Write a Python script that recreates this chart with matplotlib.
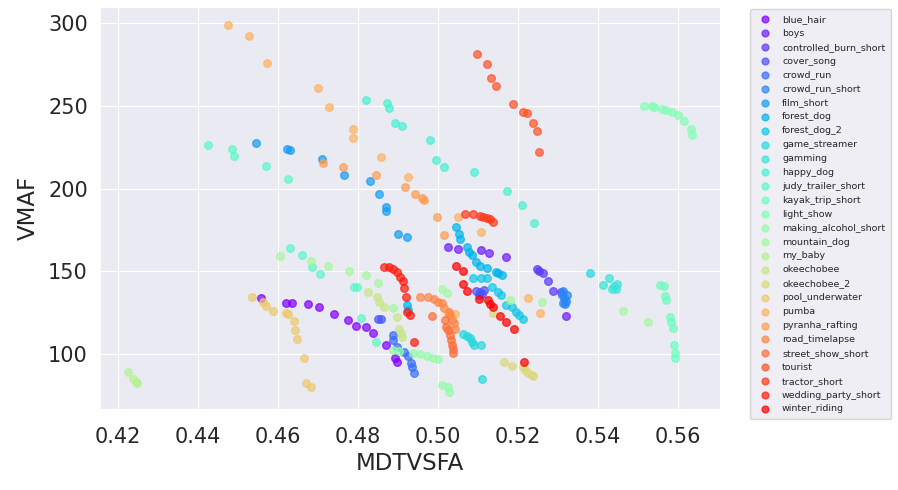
import numpy as np
import matplotlib
matplotlib.use("Agg")
import matplotlib.pyplot as plt
import seaborn as sns

# (MDTVSFA, VMAF) points per video
blue_hair = [(0.4558, 133.8), (0.4620, 130.8), (0.4635, 130.8), (0.4675, 130.2), (0.4703, 128.4),
             (0.4740, 124.2), (0.4775, 120.5), (0.4795, 117.0), (0.4820, 116.3), (0.4838, 112.7),
             (0.4870, 105.4), (0.4893, 97.6), (0.4898, 95.2)]
boys = [(0.5025, 165.0), (0.5050, 163.4), (0.5108, 162.8), (0.5128, 161.0), (0.5170, 158.6), (0.5320, 123.0)]
controlled_burn_short = [(0.5248, 151.6), (0.5253, 150.0), (0.5263, 149.0), (0.5275, 144.0),
                         (0.5288, 138.0), (0.5308, 137.5)]
cover_song = [(0.4850, 121.0), (0.4858, 121.0), (0.5095, 138.0), (0.5105, 137.5), (0.5110, 136.5),
              (0.5115, 138.5), (0.5102, 136.0)]
crowd_run = [(0.4888, 111.5), (0.4888, 108.5), (0.4898, 104.3), (0.4915, 101.2), (0.4925, 98.8),
             (0.4933, 94.6), (0.4935, 92.2), (0.4940, 88.5)]
crowd_run_short = [(0.5310, 136.0), (0.5315, 134.0), (0.5320, 132.0), (0.5312, 138.0), (0.5318, 130.5),
                   (0.5322, 135.5), (0.5313, 131.0)]
film_short = [(0.4545, 227.5), (0.4623, 224.0), (0.4630, 223.0), (0.4710, 218.0), (0.4765, 208.0),
              (0.4830, 204.5), (0.4853, 197.0), (0.4870, 189.0), (0.4870, 186.6), (0.4900, 172.5),
              (0.4923, 170.7)]
forest_dog = [(0.4923, 129.6), (0.4925, 126.6), (0.5045, 176.7), (0.5053, 172.5), (0.5055, 169.5),
              (0.5073, 164.7), (0.5078, 161.6), (0.5085, 159.8), (0.5095, 155.5), (0.5105, 153.2),
              (0.5123, 152.0), (0.5145, 149.5), (0.5150, 149.0), (0.5160, 147.8)]
forest_dog_2 = [(0.5088, 146.0), (0.5108, 146.0), (0.5123, 146.0), (0.5135, 140.5), (0.5150, 137.5),
                (0.5158, 135.6), (0.5170, 129.6), (0.5185, 128.4), (0.5195, 125.4), (0.5203, 123.6),
                (0.5213, 121.0)]
game_streamer = [(0.5063, 112.0), (0.5073, 110.9), (0.5080, 109.7), (0.5085, 107.3), (0.5090, 105.4),
                 (0.5108, 105.4), (0.5110, 85.0), (0.5380, 149.0)]
gamming = [(0.5413, 141.7), (0.5428, 146.0), (0.5435, 139.5), (0.5445, 139.5), (0.5448, 142.6),
           (0.5440, 141.0)]
happy_dog = [(0.4820, 253.5), (0.4873, 251.7), (0.4878, 248.6), (0.4893, 239.6), (0.4910, 237.8),
             (0.4980, 229.3), (0.4995, 217.0), (0.5015, 213.0), (0.5090, 210.0), (0.5173, 198.5),
             (0.5210, 190.0), (0.5240, 179.0)]
judy_trailer_short = [(0.4425, 226.0), (0.4485, 224.0), (0.4490, 219.6), (0.4570, 213.6), (0.4625, 205.8),
                      (0.4630, 164.0), (0.4660, 160.0), (0.4685, 152.6), (0.4705, 148.3), (0.4790, 140.5),
                      (0.4797, 140.3), (0.4808, 121.8), (0.4845, 107.3)]
kayak_trip_short = [(0.5555, 142.0), (0.5565, 141.0), (0.5568, 135.0), (0.5570, 133.0), (0.5580, 122.4),
                    (0.5583, 119.3), (0.5588, 116.0), (0.5590, 105.4), (0.5593, 100.6), (0.5593, 97.6)]
light_show = [(0.5515, 250.0), (0.5535, 250.0), (0.5540, 249.5), (0.5560, 248.0), (0.5570, 247.4),
              (0.5585, 246.0), (0.5600, 244.4), (0.5615, 241.0), (0.5633, 236.0), (0.5635, 232.3)]
making_alcohol_short = [(0.4888, 102.4), (0.4903, 101.8), (0.4938, 100.6), (0.4955, 100.0), (0.4973, 98.8),
                        (0.4988, 97.6), (0.5000, 97.0), (0.5010, 81.3), (0.5025, 80.0), (0.5028, 77.0)]
mountain_dog = [(0.4605, 159.0), (0.4683, 156.0), (0.4725, 153.0), (0.4778, 150.0), (0.4820, 148.0),
                (0.4850, 143.0), (0.4888, 127.8), (0.5010, 139.3), (0.5023, 137.0), (0.5180, 132.6),
                (0.5260, 131.4), (0.5463, 126.0), (0.5525, 119.3)]
my_baby = [(0.4225, 89.0), (0.4238, 85.0), (0.4245, 83.0), (0.4248, 82.5)]
okeechobee = [(0.4825, 137.5), (0.4848, 134.5), (0.4853, 131.5), (0.4865, 128.4), (0.4898, 122.3),
              (0.4903, 115.0), (0.4908, 112.7), (0.4910, 110.3)]
okeechobee_2 = [(0.5165, 95.2), (0.5185, 92.8), (0.5213, 92.2), (0.5218, 90.4), (0.5225, 88.5),
                (0.5235, 87.3), (0.5238, 86.7), (0.5138, 124.8)]
pool_underwater = [(0.4535, 134.4), (0.4563, 131.4), (0.4570, 129.0), (0.4588, 126.0), (0.4620, 124.8),
                   (0.4625, 124.3), (0.4640, 120.0), (0.4643, 114.5), (0.4648, 109.0), (0.4665, 97.6),
                   (0.4670, 82.5), (0.4683, 80.0)]
pumba = [(0.4475, 299.0), (0.4528, 292.0), (0.4573, 276.0), (0.4700, 261.0), (0.4728, 249.0),
         (0.4788, 236.0), (0.4788, 230.5), (0.4858, 219.0), (0.4925, 207.0), (0.5050, 182.6),
         (0.5108, 173.7), (0.5225, 133.8), (0.5255, 124.7), (0.5025, 124.8), (0.5043, 124.2)]
pyranha_rafting = [(0.4713, 215.4), (0.4763, 213.0), (0.4845, 208.0), (0.4918, 201.0), (0.4943, 196.7),
                   (0.4960, 194.0), (0.4965, 193.0), (0.4998, 183.0), (0.5015, 172.0)]
road_timelapse = [(0.4955, 134.4), (0.4975, 134.4), (0.4990, 133.2), (0.5000, 131.4), (0.5010, 130.8),
                  (0.5015, 127.8), (0.5028, 125.4), (0.5030, 123.6), (0.5035, 120.5), (0.5040, 118.7),
                  (0.5043, 115.0)]
street_show_short = [(0.4985, 123.0), (0.5018, 120.5), (0.5020, 116.3), (0.5025, 114.5), (0.5030, 111.5),
                     (0.5033, 108.5), (0.5035, 105.4), (0.5038, 103.0), (0.5038, 100.6)]
tourist = [(0.5098, 281.3), (0.5123, 275.0), (0.5133, 266.8), (0.5145, 262.0), (0.5188, 251.0),
           (0.5213, 246.3), (0.5223, 245.6), (0.5238, 239.6), (0.5248, 234.7), (0.5253, 222.0)]
tractor_short = [(0.5068, 184.6), (0.5088, 184.6), (0.5105, 183.4), (0.5113, 183.0), (0.5123, 182.2),
                 (0.5130, 181.4), (0.5138, 179.8)]
wedding_party_short = [(0.4865, 152.6), (0.4878, 152.6), (0.4888, 151.4), (0.4898, 149.5), (0.4905, 146.5),
                       (0.4913, 144.0), (0.4915, 140.0), (0.4920, 134.4), (0.4923, 125.4), (0.4930, 123.6),
                       (0.4940, 107.3)]
winter_riding = [(0.5045, 153.2), (0.5063, 150.0), (0.5063, 142.3), (0.5073, 138.0), (0.5103, 133.2),
                 (0.5125, 132.6), (0.5130, 130.2), (0.5138, 128.4), (0.5155, 123.0), (0.5170, 119.4),
                 (0.5190, 115.0), (0.5215, 95.2)]

names = ["blue_hair", "boys", "controlled_burn_short", "cover_song", "crowd_run", "crowd_run_short",
         "film_short", "forest_dog", "forest_dog_2", "game_streamer", "gamming", "happy_dog",
         "judy_trailer_short", "kayak_trip_short", "light_show", "making_alcohol_short", "mountain_dog",
         "my_baby", "okeechobee", "okeechobee_2", "pool_underwater", "pumba", "pyranha_rafting",
         "road_timelapse", "street_show_short", "tourist", "tractor_short", "wedding_party_short",
         "winter_riding"]
series = [blue_hair, boys, controlled_burn_short, cover_song, crowd_run, crowd_run_short,
          film_short, forest_dog, forest_dog_2, game_streamer, gamming, happy_dog,
          judy_trailer_short, kayak_trip_short, light_show, making_alcohol_short, mountain_dog,
          my_baby, okeechobee, okeechobee_2, pool_underwater, pumba, pyranha_rafting,
          road_timelapse, street_show_short, tourist, tractor_short, wedding_party_short,
          winter_riding]

sns.set_style("darkgrid")
colors = plt.cm.rainbow(np.linspace(0, 1, len(names)))

fig = plt.figure(figsize=(8.98, 4.9), dpi=100)
ax = fig.add_axes([0.111, 0.165, 0.691, 0.821])

for name, pts, c in zip(names, series, colors):
    pts = np.array(pts)
    ax.scatter(pts[:, 0], pts[:, 1], color=c, s=30, alpha=0.7, label=name)

ax.set_xlim(0.4155, 0.5705)
ax.set_ylim(66.8, 309.7)
ax.set_xticks([0.42, 0.44, 0.46, 0.48, 0.50, 0.52, 0.54, 0.56])
ax.set_yticks([100, 150, 200, 250, 300])
ax.tick_params(axis="x", labelsize=15, pad=9)
ax.tick_params(axis="y", labelsize=15, pad=5)
ax.set_xlabel("MDTVSFA", fontsize=16.5, labelpad=4)
ax.set_ylabel("VMAF", fontsize=16.5, labelpad=6)

ax.legend(loc="upper left", bbox_to_anchor=(1.048, 0.994), borderaxespad=0,
          fontsize=6.8, labelspacing=0.52, handletextpad=0.8, borderpad=0.6, markerscale=0.9)

plt.savefig("out.png", dpi=100)
plt.close()
